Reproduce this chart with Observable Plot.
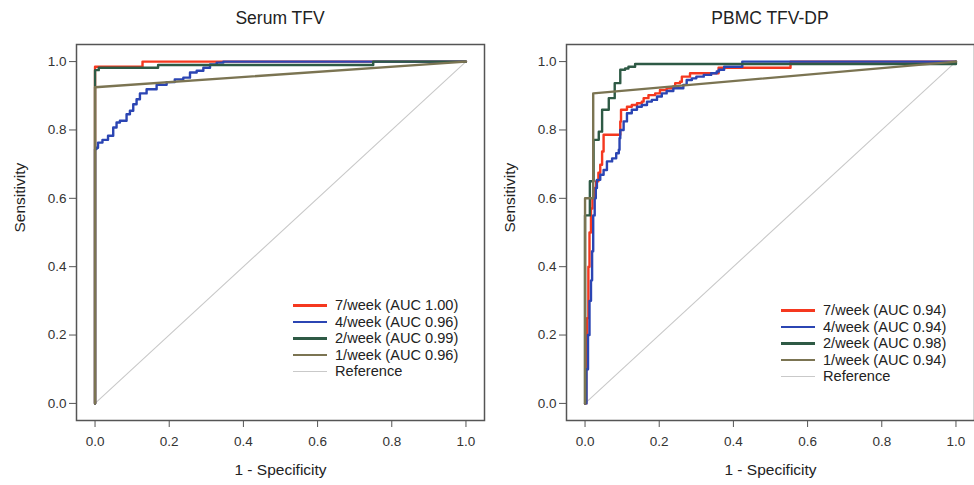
<!DOCTYPE html>
<html>
<head>
<meta charset="utf-8">
<script src="https://cdn.jsdelivr.net/npm/d3@7"></script>
<script src="https://cdn.jsdelivr.net/npm/@observablehq/plot@0.6"></script>
<style>
  html, body { margin: 0; padding: 0; background: #fff; }
  body { font-family: "Liberation Sans", Arial, sans-serif; }
  #wrap { position: relative; width: 974px; height: 485px; overflow: hidden; background: #fff; }
  .panel { position: absolute; top: 0; width: 487px; height: 485px; }
  .panel svg { position: absolute; top: 32px; left: 0; }
  .title { position: absolute; top: 8px; font-size: 17.5px; color: #222; text-align: center; }
  .legend { position: absolute; font-size: 14.6px; color: #222; line-height: 16.6px; }
  .legend .row { display: flex; align-items: center; white-space: nowrap; }
  .legend .sw { display: inline-block; width: 34px; height: 2.6px; margin-right: 8px; }
</style>
</head>
<body>
<div id="wrap"></div>
<script>
// ---------------- data ----------------
const ticks = [0, 0.2, 0.4, 0.6, 0.8, 1.0];
const seriesNames = ["7/week", "4/week", "2/week", "1/week"];
const seriesColors = ["#f5381f", "#2b45b3", "#2e5a45", "#7b7452"];
const refColor = "#c9c9c9";
const refFpr = [0, 1];
const refTpr = [0, 1];

// Serum TFV
const serumTitle = "Serum TFV";
const serumAUC = ["1.00", "0.96", "0.99", "0.96"];
const serum7Fpr = [0, 0, 0.128, 1];
const serum7Tpr = [0, 0.985, 1, 1];
const serum4Fpr = [0, 0, 0.004, 0.008, 0.02, 0.035, 0.049, 0.058, 0.067, 0.085, 0.094, 0.103, 0.112, 0.121, 0.139, 0.166, 0.193, 0.215, 0.238, 0.256, 0.274, 0.292, 0.31, 0.328, 0.346, 1];
const serum4Tpr = [0, 0.744, 0.748, 0.763, 0.771, 0.783, 0.807, 0.822, 0.827, 0.846, 0.856, 0.875, 0.89, 0.907, 0.919, 0.932, 0.94, 0.948, 0.953, 0.968, 0.973, 0.982, 0.992, 0.997, 1, 1];
const serum2Fpr = [0, 0, 0.01, 0.17, 0.75, 1];
const serum2Tpr = [0, 0.975, 0.982, 0.99, 1, 1];
const serum1Fpr = [0, 0, 1];
const serum1Tpr = [0, 0.925, 1];

// PBMC TFV-DP
const pbmcTitle = "PBMC TFV-DP";
const pbmcAUC = ["0.94", "0.94", "0.98", "0.94"];
const pbmc7Fpr = [0, 0.003, 0.006, 0.009, 0.012, 0.016, 0.02, 0.025, 0.03, 0.036, 0.041, 0.046, 0.05, 0.05, 0.091, 0.095, 0.097, 0.108, 0.113, 0.126, 0.14, 0.153, 0.158, 0.171, 0.189, 0.202, 0.22, 0.238, 0.243, 0.256, 0.261, 0.283, 0.36, 0.554, 1];
const pbmc7Tpr = [0, 0.1, 0.25, 0.4, 0.5, 0.57, 0.6, 0.63, 0.65, 0.675, 0.698, 0.737, 0.751, 0.786, 0.786, 0.825, 0.859, 0.859, 0.868, 0.873, 0.878, 0.883, 0.893, 0.902, 0.907, 0.917, 0.922, 0.927, 0.937, 0.941, 0.956, 0.966, 0.982, 1, 1];
const pbmc4Fpr = [0, 0.004, 0.008, 0.012, 0.016, 0.019, 0.022, 0.026, 0.029, 0.032, 0.041, 0.05, 0.059, 0.073, 0.084, 0.091, 0.093, 0.095, 0.104, 0.113, 0.126, 0.14, 0.153, 0.167, 0.18, 0.194, 0.207, 0.22, 0.238, 0.265, 0.274, 0.288, 0.3, 0.32, 0.34, 0.355, 0.361, 0.375, 0.424, 1];
const pbmc4Tpr = [0, 0.1, 0.2, 0.3, 0.36, 0.445, 0.55, 0.6, 0.63, 0.654, 0.669, 0.683, 0.708, 0.717, 0.732, 0.742, 0.776, 0.8, 0.825, 0.849, 0.859, 0.868, 0.873, 0.883, 0.888, 0.898, 0.907, 0.914, 0.922, 0.932, 0.946, 0.951, 0.956, 0.961, 0.966, 0.971, 0.976, 0.985, 1, 1];
const pbmc2Fpr = [0, 0, 0.013, 0.023, 0.037, 0.046, 0.064, 0.08, 0.095, 0.108, 0.117, 0.135, 1];
const pbmc2Tpr = [0, 0.55, 0.65, 0.771, 0.795, 0.859, 0.893, 0.937, 0.976, 0.98, 0.985, 0.993, 1];
const pbmc1Fpr = [0, 0, 0.022, 0.022, 1];
const pbmc1Tpr = [0, 0.6, 0.6, 0.907, 1];

// ---------------- drawing ----------------
const zip = (xs, ys) => xs.map((x, i) => ({x, y: ys[i]}));
const fmt = d3.format(".1f");

function makePanel({left, marginLeft, marginRight, title, auc, curves, legendPos}) {
  const panel = document.createElement("div");
  panel.className = "panel";
  panel.style.left = left + "px";

  const plot = Plot.plot({
    width: 487,
    height: 453,
    marginTop: 12,
    marginBottom: 65,
    marginLeft,
    marginRight,
    x: {domain: [-0.05, 1.05]},
    y: {domain: [-0.05, 1.05]},
    style: {fontFamily: "'Liberation Sans', Arial, sans-serif", fontSize: "13.5px", color: "#333", background: "white", overflow: "visible"},
    marks: [
      Plot.axisX({ticks, tickFormat: fmt, tickSize: 7, tickPadding: 9, label: null, stroke: "#555"}),
      Plot.axisY({ticks, tickFormat: fmt, tickSize: 7, tickPadding: 3, label: null, stroke: "#555"}),
      Plot.text(["1 - Specificity"], {frameAnchor: "bottom", dy: 54, fontSize: 15.5, fill: "#222"}),
      Plot.text(["Sensitivity"], {frameAnchor: "left", dx: -56, rotate: -90, fontSize: 15.5, fill: "#222"}),
      Plot.line(zip(refFpr, refTpr), {x: "x", y: "y", stroke: refColor, strokeWidth: 1.1}),
      ...curves.map((c, i) => Plot.line(zip(c[0], c[1]), {
        x: "x", y: "y", stroke: seriesColors[i], strokeWidth: 2.4,
        curve: i === 3 ? "linear" : "step-after"
      })),
      Plot.frame({stroke: "#555", strokeWidth: 1.5})
    ]
  });
  panel.appendChild(plot);

  const t = document.createElement("div");
  t.className = "title";
  t.style.left = marginLeft + "px";
  t.style.width = (487 - marginLeft - marginRight) + "px";
  t.textContent = title;
  panel.appendChild(t);

  const lg = document.createElement("div");
  lg.className = "legend";
  lg.style.left = legendPos[0] + "px";
  lg.style.top = legendPos[1] + "px";
  const rows = seriesNames.map((n, i) => [`${n} (AUC ${auc[i]})`, seriesColors[i], 2.6]);
  rows.push(["Reference", refColor, 1.3]);
  for (const [label, color, h] of rows) {
    const r = document.createElement("div");
    r.className = "row";
    const sw = document.createElement("span");
    sw.className = "sw";
    sw.style.background = color;
    sw.style.height = h + "px";
    r.appendChild(sw);
    r.appendChild(document.createTextNode(label));
    lg.appendChild(r);
  }
  panel.appendChild(lg);
  return panel;
}

const wrap = document.getElementById("wrap");
wrap.appendChild(makePanel({
  left: 0, marginLeft: 76, marginRight: 3, title: serumTitle, auc: serumAUC,
  curves: [[serum7Fpr, serum7Tpr], [serum4Fpr, serum4Tpr], [serum2Fpr, serum2Tpr], [serum1Fpr, serum1Tpr]],
  legendPos: [293, 297]
}));
wrap.appendChild(makePanel({
  left: 487, marginLeft: 79, marginRight: 0, title: pbmcTitle, auc: pbmcAUC,
  curves: [[pbmc7Fpr, pbmc7Tpr], [pbmc4Fpr, pbmc4Tpr], [pbmc2Fpr, pbmc2Tpr], [pbmc1Fpr, pbmc1Tpr]],
  legendPos: [294, 302]
}));
</script>
</body>
</html>
